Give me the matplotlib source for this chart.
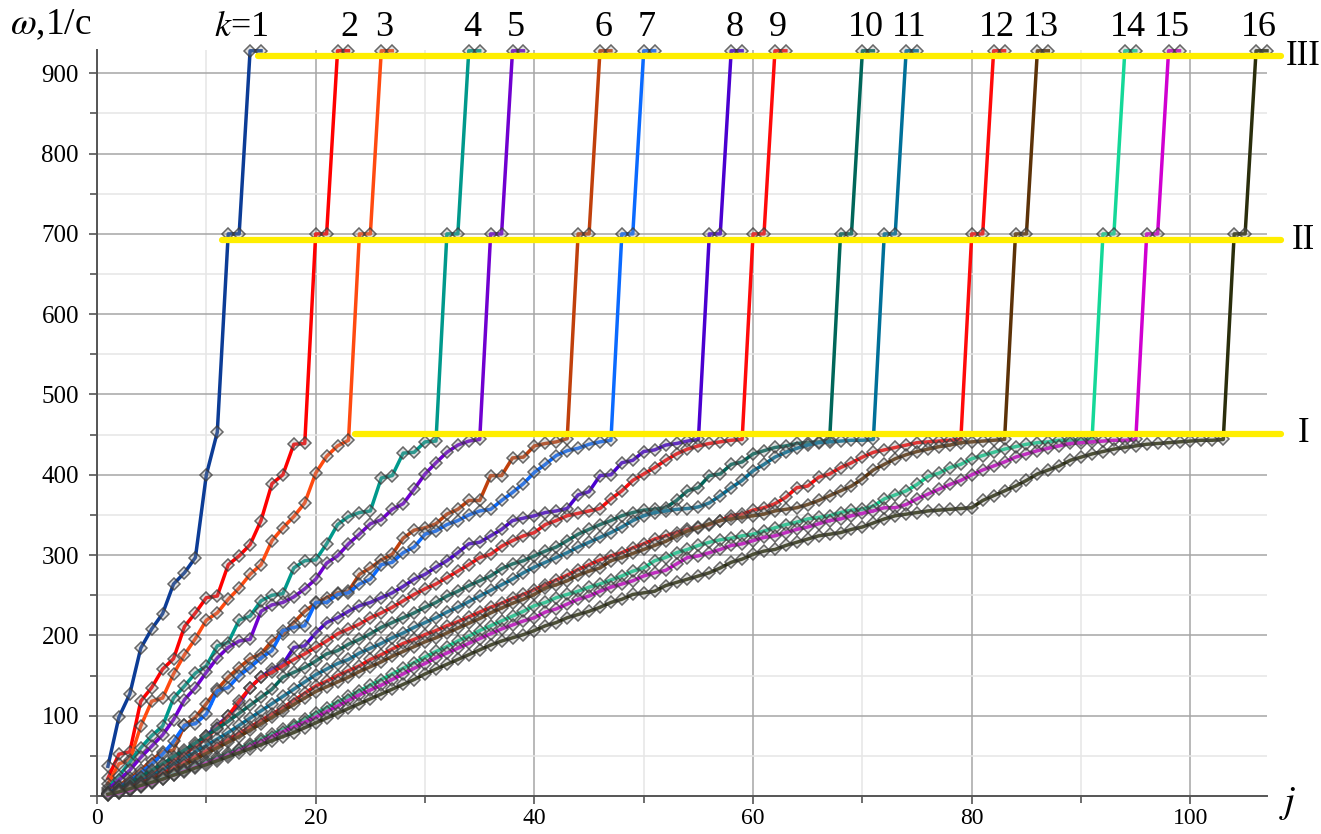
#!/usr/bin/env python3

import matplotlib
matplotlib.use( "Agg" )
import matplotlib.pyplot as plt
from matplotlib.ticker import MultipleLocator

plt.rcParams['font.family'] = ['Liberation Serif', 'DejaVu Serif']
plt.rcParams['mathtext.fontset'] = 'stix'

# omega values, one list per curve k, for j = 1, 2, ..., n
w1 = [37, 98, 127, 184, 208, 227, 264, 278, 297, 400, 453]
w2 = [22, 52, 55, 118, 135, 158, 171, 211, 228, 247, 249, 288, 299, 313, 343, 389, 400, 438, 439]
w3 = [15, 40, 45, 87, 118, 122, 152, 176, 196, 219, 228, 245, 259, 276, 288, 318, 334, 348, 365, 402,
      423, 436, 443]
w4 = [10, 25, 42, 60, 75, 87, 122, 137, 153, 162, 187, 191, 219, 224, 243, 250, 252, 284, 293, 294,
      314, 338, 348, 353, 355, 396, 399, 427, 428, 441, 442]
w5 = [8, 20, 32, 48, 62, 76, 95, 120, 135, 154, 172, 185, 193, 195, 230, 238, 241, 248, 258, 270,
      290, 299, 314, 326, 339, 344, 357, 364, 382, 401, 415, 428, 437, 442, 444]
w6 = [5, 13, 22, 32, 45, 55, 57, 88, 98, 115, 133, 148, 160, 171, 177, 193, 202, 216, 230, 240,
      247, 253, 255, 276, 284, 294, 301, 321, 331, 334, 339, 351, 357, 368, 368, 399, 399, 421, 422, 436,
      439, 441, 445]
w7 = [4, 11, 19, 29, 40, 52, 68, 88, 90, 102, 131, 135, 150, 160, 172, 181, 206, 210, 212, 241,
      241, 251, 253, 264, 270, 288, 291, 303, 310, 326, 330, 338, 343, 350, 355, 357, 368, 378, 389, 403,
      413, 424, 430, 433, 438, 441, 443]
w8 = [3, 8, 15, 22, 30, 38, 46, 55, 64, 75, 88, 100, 115, 135, 148, 158, 164, 185, 187, 203,
      216, 222, 230, 237, 241, 247, 253, 261, 270, 276, 285, 293, 303, 314, 316, 324, 332, 343, 346, 349,
      353, 355, 358, 375, 379, 399, 400, 415, 418, 429, 431, 437, 439, 442, 444]
w9 = [2, 7, 13, 20, 28, 36, 44, 52, 62, 72, 85, 100, 118, 135, 148, 154, 162, 170, 177, 185,
      193, 202, 208, 214, 222, 228, 235, 243, 251, 258, 264, 272, 280, 288, 297, 301, 311, 318, 324, 328,
      338, 343, 349, 352, 355, 358, 370, 380, 393, 401, 409, 418, 426, 432, 436, 439, 441, 443, 444]
w10 = [3, 9, 16, 24, 32, 40, 49, 57, 66, 75, 84, 93, 103, 113, 123, 133, 148, 154, 160, 168,
       177, 181, 189, 195, 202, 210, 216, 222, 228, 235, 241, 249, 255, 262, 268, 274, 283, 289, 293, 299,
       305, 310, 318, 326, 332, 338, 343, 349, 353, 356, 357, 359, 368, 380, 384, 399, 401, 413, 416, 426,
       430, 434, 436, 439, 440, 441, 443]
w11 = [3, 7, 12, 18, 25, 32, 39, 47, 55, 63, 71, 79, 88, 97, 106, 115, 124, 133, 142, 151,
       158, 165, 170, 178, 184, 190, 197, 203, 210, 216, 222, 229, 235, 242, 249, 256, 263, 270, 278, 285,
       291, 297, 303, 310, 316, 322, 328, 335, 343, 349, 353, 355, 357, 358, 360, 365, 374, 384, 393, 405,
       413, 422, 428, 433, 437, 440, 441, 442, 443, 443, 444]
w12 = [2, 6, 11, 16, 22, 28, 35, 42, 49, 56, 63, 70, 78, 86, 94, 102, 110, 119, 128, 137,
       143, 150, 156, 162, 170, 176, 183, 190, 195, 201, 206, 212, 217, 223, 229, 235, 240, 246, 251, 257,
       263, 269, 275, 282, 288, 294, 299, 303, 309, 314, 320, 324, 328, 332, 335, 338, 343, 349, 351, 356,
       359, 364, 372, 384, 386, 397, 401, 409, 415, 422, 428, 431, 434, 437, 440, 441, 442, 443, 444]
w13 = [2, 5, 10, 15, 20, 26, 32, 39, 46, 53, 60, 67, 74, 82, 90, 98, 106, 114, 122, 130,
       136, 142, 148, 155, 161, 167, 174, 180, 186, 192, 197, 203, 209, 215, 221, 228, 234, 240, 245, 251,
       259, 263, 268, 275, 280, 284, 293, 297, 302, 307, 312, 317, 324, 330, 334, 339, 343, 345, 347, 349,
       351, 355, 357, 359, 363, 368, 374, 380, 386, 395, 406, 413, 420, 425, 429, 432, 435, 437, 440, 441,
       442, 443, 444]
w14 = [1, 4, 8, 12, 17, 22, 27, 32, 37, 43, 48, 53, 59, 65, 71, 77, 83, 89, 96, 103,
       110, 117, 124, 131, 138, 145, 152, 159, 166, 173, 180, 186, 193, 199, 206, 212, 218, 224, 230, 237,
       241, 247, 251, 255, 260, 264, 269, 274, 280, 284, 293, 297, 303, 307, 312, 316, 319, 321, 324, 326,
       330, 334, 338, 341, 345, 347, 349, 353, 356, 357, 361, 370, 375, 380, 388, 398, 402, 409, 413, 420,
       424, 428, 432, 435, 438, 440, 441, 443, 443, 443, 444]
w15 = [1, 4, 7, 11, 16, 21, 26, 31, 36, 41, 46, 51, 57, 62, 68, 74, 80, 86, 92, 98,
       105, 112, 119, 126, 132, 138, 145, 152, 159, 165, 172, 178, 184, 190, 196, 202, 208, 213, 218, 222,
       229, 233, 239, 245, 249, 255, 260, 264, 268, 274, 278, 281, 289, 297, 299, 303, 307, 312, 314, 318,
       322, 324, 328, 332, 335, 339, 343, 345, 349, 352, 355, 359, 359, 363, 370, 376, 382, 388, 393, 400,
       406, 411, 416, 422, 426, 430, 433, 436, 439, 440, 441, 442, 443, 443, 444]
w16 = [2, 5, 9, 13, 17, 21, 26, 30, 35, 39, 44, 49, 54, 59, 64, 69, 74, 79, 85, 91,
       97, 103, 109, 115, 121, 127, 133, 139, 145, 152, 158, 164, 170, 176, 182, 188, 193, 197, 201, 206,
       212, 216, 222, 226, 230, 235, 241, 245, 251, 253, 255, 262, 266, 270, 274, 278, 284, 291, 295, 301,
       305, 307, 312, 316, 320, 324, 326, 328, 332, 335, 340, 345, 349, 351, 353, 355, 356, 357, 358, 359,
       368, 374, 380, 386, 393, 401, 406, 411, 418, 422, 426, 429, 432, 434, 436, 438, 439, 440, 441, 442,
       443, 443, 444]

curves = [ w1, w2, w3, w4, w5, w6, w7, w8, w9, w10, w11, w12, w13, w14, w15, w16 ]
colors = [ '#0c3c96', '#ff0000', '#ff4a10', '#00998c', '#7000d0', '#c0400c', '#0a6aff', '#4a00d0',
           '#ff0a0a', '#00665a', '#007099', '#ff0a0a', '#5c3208', '#14d898', '#d000d0', '#2a2e0c' ]

# the two upper levels every curve jumps to after reaching level I
level_II = 700
level_III = 928
levels = { 'I': 451, 'II': 692, 'III': 921 }
level_start = { 'I': 23.6, 'II': 11.4, 'III': 14.7 }

fig = plt.figure( figsize = ( 13.21, 8.34 ), dpi = 100 )
ax = fig.add_axes( [ 97/1321, 38/834, 1170/1321, 746/834 ] )
ax.set_xlim( 0, 107 )
ax.set_ylim( 0, 929 )

ax.xaxis.set_major_locator( MultipleLocator( 20 ) )
ax.xaxis.set_minor_locator( MultipleLocator( 10 ) )
ax.yaxis.set_major_locator( MultipleLocator( 100 ) )
ax.yaxis.set_minor_locator( MultipleLocator( 50 ) )
ax.set_yticks( range( 100, 1000, 100 ) )
ax.grid( which = 'major', color = '#a6a6a6', linewidth = 1.1 )
ax.grid( which = 'minor', color = '#e6e6e6', linewidth = 1.1 )
ax.set_axisbelow( True )
for side in [ 'top', 'right' ]:
    ax.spines[side].set_visible( False )
for side in [ 'left', 'bottom' ]:
    ax.spines[side].set_color( '#555555' )
    ax.spines[side].set_linewidth( 1.4 )
ax.tick_params( which = 'both', colors = '#555555', labelcolor = 'black', labelsize = 18, width = 1.2 )
ax.tick_params( which = 'major', length = 6 )
ax.tick_params( which = 'minor', length = 5 )
ax.tick_params( axis = 'y', pad = 7 )
ax.tick_params( axis = 'x', pad = 3, labelsize = 17 )

for k, ( w, c ) in enumerate( zip( curves, colors ), start = 1 ):
    n = len( w )
    j = list( range( 1, n + 5 ) )
    omega = w + [ level_II, level_II, level_III, level_III ]
    ax.plot( j, omega, color = c, linewidth = 2.5, marker = 'D', markersize = 5.8,
             markerfacecolor = ( 0.6, 0.6, 0.6, 0.3 ), markeredgecolor = ( 0.22, 0.22, 0.22, 0.75 ),
             markeredgewidth = 1.1, clip_on = False, zorder = 3 )
    label = r'$k$=1' if k == 1 else str( k )
    xl = n + 2.2 if k == 1 else ( n + 4.1 if k == 2 else n + 3.3 )
    ax.text( xl, 957, label, fontsize = 26, ha = 'center', va = 'center', clip_on = False )

for name, y in levels.items():
    ax.plot( [ level_start[name], 108.3 ], [ y, y ], color = '#ffee00', linewidth = 4.5,
             solid_capstyle = 'round', clip_on = False, zorder = 4 )
    ax.text( 110.3, y, name, fontsize = 25, ha = 'center', va = 'center', clip_on = False )

ax.text( 108.9, -9, r'$j$', fontsize = 28, ha = 'center', va = 'center', clip_on = False )
fig.text( 10/1321, 1 - 25/834, r'$\omega$,1/с', fontsize = 27, ha = 'left', va = 'center' )

fig.savefig( "out.png", dpi = 100 )
